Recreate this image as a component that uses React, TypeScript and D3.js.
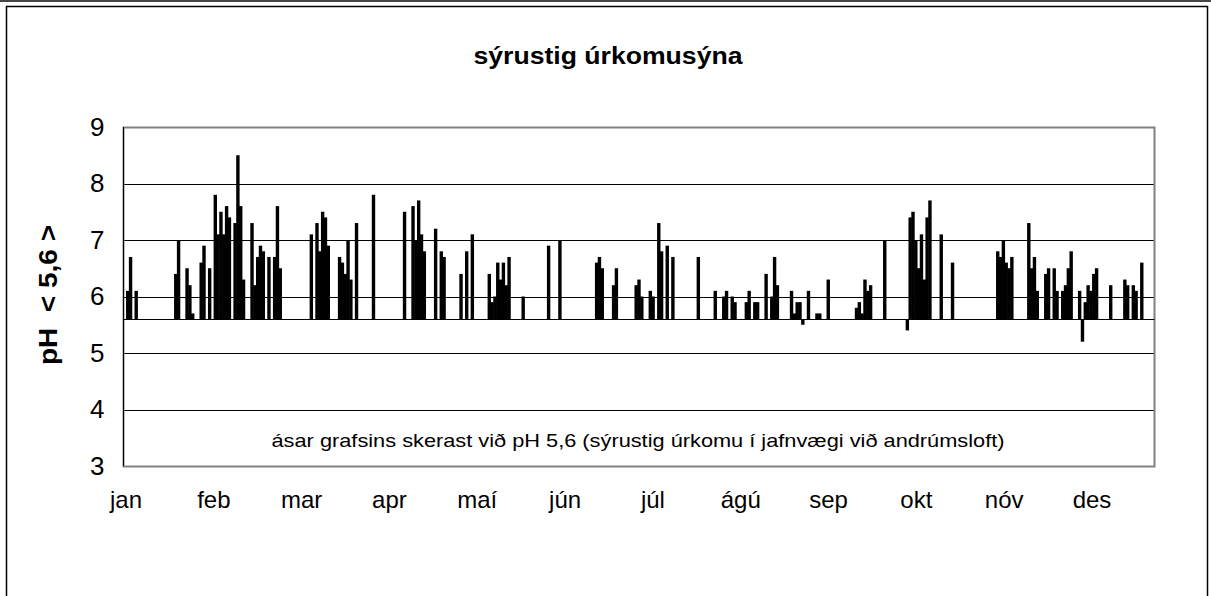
import { useEffect, useRef } from "react";
import * as d3 from "d3";

// day of year (0 = 1 jan) and measured pH of each sample
const sampleDays = [
  1, 2, 4, 18, 19, 22, 23, 24, 27, 28, 30, 32, 33, 34, 35, 36, 37, 39, 40, 41, 42,
  45, 46, 47, 48, 49, 51, 53, 54, 55, 66, 68, 69, 70, 71, 72, 76, 77, 78, 79, 80,
  82, 88, 99, 102, 103, 104, 105, 106, 110, 112, 113, 119, 121, 123, 129, 130, 131,
  132, 133, 134, 135, 136, 141, 150, 154, 167, 168, 169, 173, 174, 181, 182, 183,
  186, 187, 189, 190, 192, 194, 203, 209, 212, 213, 215, 216, 220, 221, 223, 224,
  227, 229, 230, 231, 236, 237, 238, 239, 240, 242, 245, 246, 249, 259, 260, 261,
  262, 263, 264, 269, 277, 278, 279, 280, 281, 282, 283, 284, 285, 289, 293, 309,
  310, 311, 312, 313, 314, 320, 321, 322, 323, 326, 327, 329, 330, 332, 333, 334,
  335, 338, 339, 340, 341, 342, 343, 344, 349, 354, 355, 357, 358, 360,
];
const phValues = [
  6.1, 6.7, 6.1, 6.4, 7.0, 6.5, 6.2, 5.7, 6.6, 6.9, 6.5, 7.8, 7.1, 7.5, 7.1, 7.6, 7.4, 7.3, 8.5, 7.6, 6.3,
  7.3, 6.2, 6.7, 6.9, 6.8, 6.7, 6.7, 7.6, 6.5, 7.1, 7.3, 6.8, 7.5, 7.4, 6.9, 6.7, 6.6, 6.4, 7.0, 6.3,
  7.3, 7.8, 7.5, 7.6, 7.0, 7.7, 7.1, 6.8, 7.2, 6.8, 6.7, 6.4, 6.8, 7.1, 6.4, 5.9, 6.0,
  6.6, 6.3, 6.6, 6.2, 6.7, 6.0, 6.9, 7.0, 6.6, 6.7, 6.5, 6.2, 6.5, 6.2, 6.3, 6.0,
  6.1, 6.0, 7.3, 6.8, 6.9, 6.7, 6.7, 6.1, 6.0, 6.1, 6.0, 5.9, 5.9, 6.1, 5.9, 5.9,
  6.4, 6.0, 6.7, 6.2, 6.1, 5.7, 5.9, 5.9, 5.5, 6.1, 5.7, 5.7, 6.3, 5.8, 5.9, 5.7,
  6.3, 6.1, 6.2, 7.0, 5.4, 7.4, 7.5, 7.0, 6.5, 7.1, 6.3, 7.4, 7.7, 7.1, 6.6, 6.8,
  6.7, 7.0, 6.6, 6.5, 6.7, 7.3, 6.5, 6.7, 6.1, 6.4, 6.5, 6.5, 6.1, 6.1, 6.2, 6.5,
  6.8, 6.1, 5.2, 5.9, 6.2, 6.1, 6.4, 6.5, 6.2, 6.3, 6.2, 6.2, 6.1, 6.6,
];
const months = ["jan", "feb", "mar", "apr", "maí", "jún", "júl", "ágú", "sep", "okt", "nóv", "des"];
const yTicks = [3, 4, 5, 6, 7, 8, 9];
const neutralPh = 5.6;

const title = "sýrustig úrkomusýna";
const yTitle = "pH  < 5,6 >";
const note = "ásar grafsins skerast við pH 5,6 (sýrustig úrkomu í jafnvægi við andrúmsloft)";

const W = 1211;
const H = 596;
const FONT = "'Liberation Sans', Arial, sans-serif";

export default function App() {
  const ref = useRef<SVGSVGElement | null>(null);

  useEffect(() => {
    if (!ref.current) return;
    const svg = d3.select(ref.current);
    svg.selectAll("*").remove();

    const plot = { left: 123.5, right: 1154.5, top: 127, bottom: 466 };

    const x = d3
      .scaleBand<number>()
      .domain(d3.range(365))
      .range([plot.left, plot.right]);
    const y = d3.scaleLinear().domain([3, 9]).range([plot.bottom, plot.top]);
    const monthX = d3.scalePoint<string>().domain(months).range([126, 1092]);

    svg.append("rect").attr("width", W).attr("height", H).attr("fill", "#fff");

    // outer frame
    svg.append("line")
      .attr("x1", 0).attr("x2", W).attr("y1", 1).attr("y2", 1)
      .attr("stroke", "#444").attr("stroke-width", 2);
    svg.append("rect")
      .attr("x", 6.5).attr("y", 6.5).attr("width", 1201).attr("height", 620)
      .attr("fill", "none").attr("stroke", "#000").attr("stroke-width", 1.5);

    svg.append("text")
      .attr("x", 608).attr("y", 64)
      .attr("text-anchor", "middle")
      .attr("font-family", FONT).attr("font-weight", "bold").attr("font-size", 23)
      .attr("textLength", 269).attr("lengthAdjust", "spacingAndGlyphs")
      .text(title);

    // gridlines
    svg.append("g")
      .selectAll("line")
      .data(yTicks.filter((t) => t > 3 && t < 9))
      .join("line")
      .attr("x1", plot.left).attr("x2", plot.right)
      .attr("y1", (d) => Math.round(y(d)) + 0.5).attr("y2", (d) => Math.round(y(d)) + 0.5)
      .attr("stroke", "#000");

    // plot border
    svg.append("rect")
      .attr("x", plot.left).attr("y", plot.top + 0.5)
      .attr("width", plot.right - plot.left).attr("height", plot.bottom - plot.top)
      .attr("fill", "none").attr("stroke", "#808080").attr("stroke-width", 2);
    svg.append("line")
      .attr("x1", plot.left).attr("x2", plot.left)
      .attr("y1", plot.top).attr("y2", plot.bottom)
      .attr("stroke", "#000");

    // y axis labels
    const yAxis = svg.append("g")
      .attr("transform", `translate(${plot.left},0)`)
      .call(d3.axisLeft(y).tickValues(yTicks).tickSize(0).tickPadding(19).tickFormat(d3.format("d")));
    yAxis.select(".domain").remove();
    yAxis.selectAll("text")
      .attr("font-family", FONT).attr("font-size", 26).attr("fill", "#000");

    svg.append("text")
      .attr("transform", `translate(57,295) rotate(-90)`)
      .attr("text-anchor", "middle")
      .attr("font-family", FONT).attr("font-weight", "bold").attr("font-size", 25)
      .attr("textLength", 140).attr("lengthAdjust", "spacingAndGlyphs")
      .style("white-space", "pre")
      .text(yTitle);

    // bars from pH 5,6
    const bw = 3.4;
    svg.append("g")
      .selectAll("rect")
      .data(sampleDays.map((d, i) => ({ day: d, ph: phValues[i] })))
      .join("rect")
      .attr("x", (d) => x(d.day)! + x.bandwidth() / 2 - bw / 2)
      .attr("width", bw)
      .attr("y", (d) => y(Math.max(d.ph, neutralPh)))
      .attr("height", (d) => Math.abs(y(d.ph) - y(neutralPh)))
      .attr("fill", "#000");

    // category axis crossing at 5,6
    svg.append("line")
      .attr("x1", plot.left).attr("x2", plot.right)
      .attr("y1", Math.round(y(neutralPh)) + 0.5).attr("y2", Math.round(y(neutralPh)) + 0.5)
      .attr("stroke", "#000");

    svg.append("g")
      .selectAll("text")
      .data(months)
      .join("text")
      .attr("x", (d) => monthX(d)!)
      .attr("y", 508)
      .attr("text-anchor", "middle")
      .attr("font-family", FONT).attr("font-size", 24)
      .text((d) => d);

    svg.append("text")
      .attr("x", 638).attr("y", 447)
      .attr("text-anchor", "middle")
      .attr("font-family", FONT).attr("font-size", 19)
      .attr("textLength", 733).attr("lengthAdjust", "spacingAndGlyphs")
      .text(note);
  }, []);

  return (
    <svg
      ref={ref}
      width={W}
      height={H}
      style={{ position: "absolute", left: 0, top: 0 }}
    />
  );
}
